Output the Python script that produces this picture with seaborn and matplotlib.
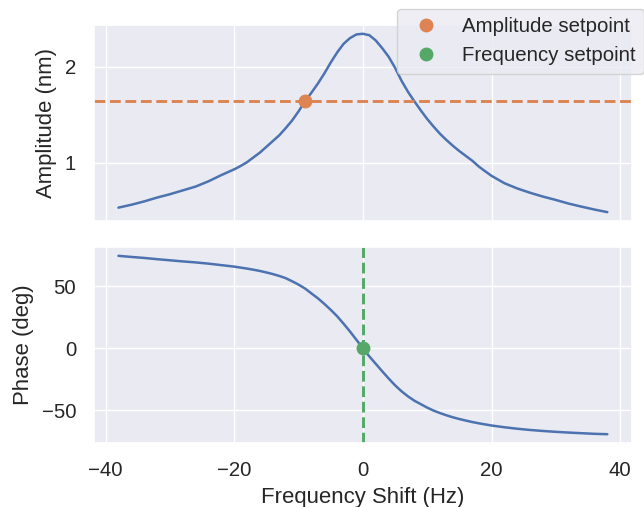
import matplotlib
matplotlib.use("Agg")
import matplotlib.pyplot as plt
import seaborn as sns
import pandas as pd

freq = [-38, -36, -34, -32, -30, -28, -26, -24, -22, -20, -19, -18, -17, -16,
        -15, -14, -13, -12, -11, -10, -9, -8, -7, -6, -5, -4, -3, -2, -1, 0,
        1, 2, 3, 4, 5, 6, 7, 8, 9, 10, 11, 12, 13, 14, 15, 16, 17, 18, 19, 20,
        22, 24, 26, 28, 30, 32, 34, 36, 38]

amplitude = [0.53, 0.56, 0.595, 0.635, 0.67, 0.71, 0.75, 0.805, 0.87, 0.93,
             0.965, 1.005, 1.055, 1.105, 1.165, 1.225, 1.285, 1.36, 1.44,
             1.535, 1.64, 1.73, 1.825, 1.93, 2.045, 2.15, 2.24, 2.30, 2.338,
             2.345, 2.33, 2.275, 2.195, 2.105, 1.99, 1.855, 1.74, 1.64, 1.545,
             1.455, 1.375, 1.30, 1.235, 1.175, 1.12, 1.07, 1.02, 0.96, 0.91,
             0.862, 0.785, 0.73, 0.685, 0.645, 0.61, 0.572, 0.54, 0.51, 0.483]

phase = [74.5, 73.6, 72.8, 71.8, 70.9, 70.0, 69.2, 68.2, 67.0, 65.8, 65.0,
         64.2, 63.3, 62.3, 61.1, 59.8, 58.3, 56.5, 54.0, 51.3, 48.2, 44.2,
         40.3, 35.8, 31.0, 25.8, 19.8, 13.5, 6.8, 0.0, -6.5, -12.5, -18.5,
         -24.3, -29.8, -34.6, -38.7, -42.2, -45.0, -47.8, -50.2, -52.2,
         -54.0, -55.6, -57.0, -58.2, -59.4, -60.4, -61.3, -62.2, -63.6,
         -64.8, -65.8, -66.6, -67.3, -67.9, -68.4, -68.9, -69.2]

amp_setpoint_freq = -9.0
amp_setpoint = 1.645
freq_setpoint = 0.0
phase_setpoint = 0.0

df = pd.DataFrame({"freq": freq, "amplitude": amplitude, "phase": phase})

sns.set_theme(style="darkgrid", font_scale=1.33)
plt.rcParams["font.family"] = ["Liberation Sans", "DejaVu Sans"]
plt.rcParams.update({
    "xtick.major.size": 8.1, "ytick.major.size": 8.1,
    "xtick.major.pad": 4.7, "ytick.major.pad": 4.7,
    "axes.labelpad": 5.4,
})
pal = sns.color_palette("deep")

fig = plt.figure(figsize=(6.44, 5.07), dpi=100)
ax1 = fig.add_axes([0.146, 0.564, 0.835, 0.387])
ax2 = fig.add_axes([0.146, 0.126, 0.835, 0.387], sharex=ax1)

sns.lineplot(data=df, x="freq", y="amplitude", ax=ax1, color=pal[0], linewidth=1.8)
ax1.axhline(amp_setpoint, color=pal[1], linestyle="--", linewidth=2.1)
ax1.plot([amp_setpoint_freq], [amp_setpoint], "o", color=pal[1], markersize=9,
         label="Amplitude setpoint")
ax1.set_ylabel("Amplitude (nm)")
ax1.set_xlabel("")
ax1.tick_params(labelbottom=False)

sns.lineplot(data=df, x="freq", y="phase", ax=ax2, color=pal[0], linewidth=1.8)
ax2.axvline(freq_setpoint, color=pal[2], linestyle="--", linewidth=2.1)
ax2.plot([freq_setpoint], [phase_setpoint], "o", color=pal[2], markersize=9,
         label="Frequency setpoint")
ax2.set_ylabel("Phase (deg)")
ax2.set_xlabel("Frequency Shift (Hz)")
ax2.set_xticks([-40, -20, 0, 20, 40])
ax1.set_yticks([1, 2])
ax2.set_yticks([-50, 0, 50])

h1, l1 = ax1.get_legend_handles_labels()
h2, l2 = ax2.get_legend_handles_labels()
fig.legend(h1 + h2, l1 + l2, loc="upper right", bbox_to_anchor=(1.0, 0.982),
           borderaxespad=0.0)

fig.savefig("out.png", dpi=100)
